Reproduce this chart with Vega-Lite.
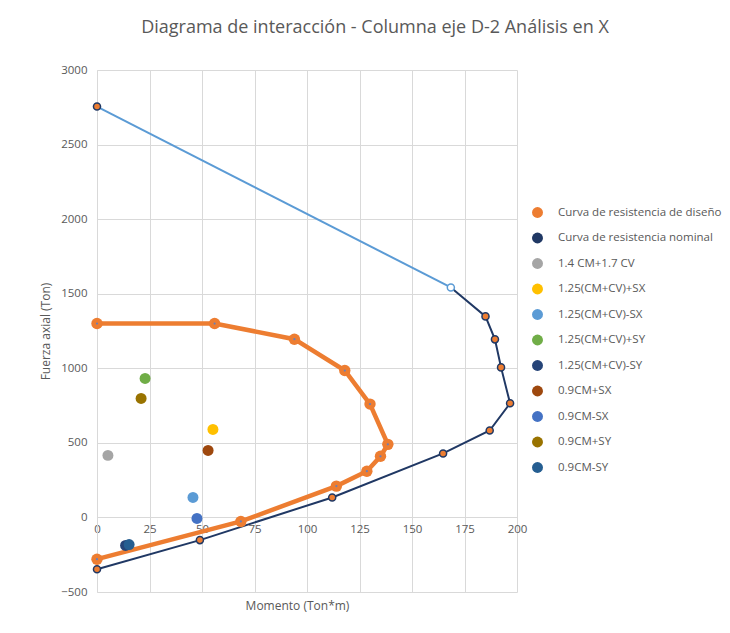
{
  "$schema": "https://vega.github.io/schema/vega-lite/v6.json",
  "width": 420,
  "height": 522,
  "autosize": {"type": "none"},
  "padding": {"left": 97, "top": 70, "right": 213, "bottom": 41},
  "background": "white",
  "title": {
    "text": "Diagrama de interacción - Columna eje D-2 Análisis en X",
    "font": "Open Sans",
    "fontSize": 18,
    "fontWeight": "normal",
    "color": "#595959",
    "anchor": "middle",
    "dx": 68,
    "offset": 27
  },
  "config": {
    "view": {"stroke": null},
    "axis": {
      "grid": true,
      "gridColor": "#D9D9D9",
      "domainColor": "#D9D9D9",
      "ticks": false,
      "labelFlush": false,
      "labelFont": "Open Sans",
      "labelFontSize": 11.5,
      "labelColor": "#595959",
      "titleFont": "Open Sans",
      "titleFontSize": 12,
      "titleFontWeight": "normal",
      "titleColor": "#595959"
    },
    "legend": {
      "labelFont": "Open Sans",
      "labelFontSize": 11.5,
      "labelColor": "#595959"
    }
  },
  "datasets": {
    "disenio": [
      {"ord": 1, "m": 0, "p": 1300},
      {"ord": 2, "m": 56, "p": 1300},
      {"ord": 3, "m": 94, "p": 1195},
      {"ord": 4, "m": 118, "p": 985},
      {"ord": 5, "m": 130, "p": 760},
      {"ord": 6, "m": 138.5, "p": 490},
      {"ord": 7, "m": 135, "p": 410},
      {"ord": 8, "m": 128.5, "p": 310},
      {"ord": 9, "m": 114, "p": 210},
      {"ord": 10, "m": 68.5, "p": -27},
      {"ord": 11, "m": 0, "p": -280}
    ],
    "tramo": [
      {"ord": 1, "m": 0, "p": 2755},
      {"ord": 2, "m": 168.5, "p": 1542}
    ],
    "nominal": [
      {"ord": 1, "m": 168.5, "p": 1542},
      {"ord": 2, "m": 185, "p": 1348},
      {"ord": 3, "m": 189.5, "p": 1194},
      {"ord": 4, "m": 192.4, "p": 1006},
      {"ord": 5, "m": 196.7, "p": 765},
      {"ord": 6, "m": 187, "p": 583},
      {"ord": 7, "m": 164.8, "p": 429},
      {"ord": 8, "m": 112, "p": 134},
      {"ord": 9, "m": 49, "p": -152},
      {"ord": 10, "m": 0, "p": -348}
    ],
    "marcas": [
      {"m": 0, "p": 2755},
      {"m": 185, "p": 1348},
      {"m": 189.5, "p": 1194},
      {"m": 192.4, "p": 1006},
      {"m": 196.7, "p": 765},
      {"m": 187, "p": 583},
      {"m": 164.8, "p": 429},
      {"m": 112, "p": 134},
      {"m": 49, "p": -152},
      {"m": 0, "p": -348}
    ],
    "abierto": [
      {"m": 168.5, "p": 1542}
    ],
    "cargas": [
      {"serie": "1.4 CM+1.7 CV", "m": 5.2, "p": 416},
      {"serie": "1.25(CM+CV)+SX", "m": 55.2, "p": 590},
      {"serie": "1.25(CM+CV)-SX", "m": 45.7, "p": 134},
      {"serie": "1.25(CM+CV)+SY", "m": 22.9, "p": 932},
      {"serie": "1.25(CM+CV)-SY", "m": 13.6, "p": -188},
      {"serie": "0.9CM+SX", "m": 52.9, "p": 449},
      {"serie": "0.9CM-SX", "m": 47.6, "p": -7},
      {"serie": "0.9CM+SY", "m": 21, "p": 798},
      {"serie": "0.9CM-SY", "m": 15.3, "p": -182}
    ]
  },
  "encoding": {
    "x": {
      "field": "m",
      "type": "quantitative",
      "scale": {"domain": [0, 200], "nice": false, "zero": false},
      "axis": {
        "values": [0, 25, 50, 75, 100, 125, 150, 175, 200],
        "offset": -75,
        "labelPadding": 6,
        "title": "Momento (Ton*m)",
        "titleX": 200,
        "titleY": 88,
        "titleBaseline": "middle",
        "domain": false
      }
    },
    "y": {
      "field": "p",
      "type": "quantitative",
      "scale": {"domain": [-500, 3000], "nice": false, "zero": false},
      "axis": {
        "values": [-500, 0, 500, 1000, 1500, 2000, 2500, 3000],
        "format": "d",
        "labelPadding": 10,
        "title": "Fuerza axial (Ton)",
        "titleX": -52,
        "titleY": 261,
        "titleBaseline": "middle"
      }
    }
  },
  "layer": [
    {
      "data": {"name": "tramo"},
      "mark": {"type": "line", "color": "#5B9BD5", "strokeWidth": 2},
      "encoding": {"order": {"field": "ord", "type": "quantitative"}}
    },
    {
      "data": {"name": "nominal"},
      "mark": {"type": "line", "color": "#203864", "strokeWidth": 2},
      "encoding": {"order": {"field": "ord", "type": "quantitative"}}
    },
    {
      "data": {"name": "disenio"},
      "mark": {"type": "line", "color": "#ED7D31", "strokeWidth": 4.5},
      "encoding": {"order": {"field": "ord", "type": "quantitative"}}
    },
    {
      "data": {"name": "disenio"},
      "mark": {"type": "point", "shape": "circle", "filled": true, "color": "#ED7D31", "size": 130, "opacity": 1}
    },
    {
      "data": {"name": "disenio"},
      "mark": {"type": "point", "shape": "circle", "filled": true, "color": "#6A7FB8", "size": 5, "opacity": 1}
    },
    {
      "data": {"name": "marcas"},
      "mark": {"type": "point", "shape": "circle", "filled": true, "fill": "#ED7D31", "stroke": "#203864", "strokeWidth": 1.5, "size": 50, "opacity": 1}
    },
    {
      "data": {"name": "abierto"},
      "mark": {"type": "point", "shape": "circle", "filled": true, "fill": "white", "stroke": "#5B9BD5", "strokeWidth": 1.5, "size": 50, "opacity": 1}
    },
    {
      "data": {"name": "cargas"},
      "mark": {"type": "point", "shape": "circle", "filled": true, "size": 120, "opacity": 1},
      "encoding": {
        "color": {
          "field": "serie",
          "type": "nominal",
          "scale": {
            "domain": [
              "Curva de resistencia de diseño",
              "Curva de resistencia nominal",
              "1.4 CM+1.7 CV",
              "1.25(CM+CV)+SX",
              "1.25(CM+CV)-SX",
              "1.25(CM+CV)+SY",
              "1.25(CM+CV)-SY",
              "0.9CM+SX",
              "0.9CM-SX",
              "0.9CM+SY",
              "0.9CM-SY"
            ],
            "range": [
              "#ED7D31",
              "#203864",
              "#A5A5A5",
              "#FFC000",
              "#5B9BD5",
              "#70AD47",
              "#264478",
              "#9E480E",
              "#4472C4",
              "#997300",
              "#255E91"
            ]
          },
          "legend": {
            "title": null,
            "orient": "none",
            "legendX": 434,
            "legendY": 136,
            "symbolSize": 120,
            "rowPadding": 13.5,
            "labelOffset": 14,
            "labelLimit": 200
          }
        }
      }
    }
  ]
}
